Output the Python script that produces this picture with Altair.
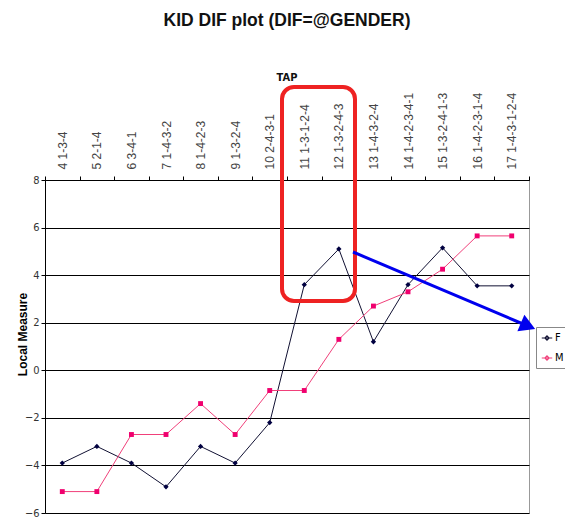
import altair as alt
import pandas as pd

items = ["4 1-3-4", "5 2-1-4", "6 3-4-1", "7 1-4-3-2", "8 1-4-2-3", "9 1-3-2-4",
         "10 2-4-3-1", "11 1-3-1-2-4", "12 1-3-2-4-3", "13 1-4-3-2-4",
         "14 1-4-2-3-4-1", "15 1-3-2-4-1-3", "16 1-4-2-3-1-4", "17 1-4-3-1-2-4"]
f_vals = [-3.9, -3.2, -3.9, -4.9, -3.2, -3.9, -2.2, 3.6, 5.1, 1.2, 3.6, 5.15, 3.55, 3.55]
m_vals = [-5.1, -5.1, -2.7, -2.7, -1.4, -2.7, -0.85, -0.85, 1.3, 2.7, 3.3, 4.25, 5.65, 5.65]
series = ["F", "M"]
line_colors = ["#111133", "#f0407a"]
point_colors = ["#000040", "#f0006e"]
y_ticks = [-6, -4, -2, 0, 2, 4, 6, 8]

df = pd.DataFrame({
    "item": items * 2,
    "value": f_vals + m_vals,
    "series": ["F"] * len(items) + ["M"] * len(items),
})

NARROW = "Liberation Sans Narrow, DejaVu Sans Condensed, Liberation Sans, sans-serif"

x_enc = alt.X("item:N", sort=items,
              scale=alt.Scale(type="band", paddingInner=0, paddingOuter=0),
              axis=alt.Axis(orient="top", title=None, labelAngle=-90, labelFontSize=12,
                            labelColor="#444", labelFont="Liberation Sans", labelPadding=7,
                            tickBand="extent", tickSize=4, tickColor="#000",
                            domainColor="#000", grid=False))
y_enc = alt.Y("value:Q", scale=alt.Scale(domain=[-6, 8], nice=False, zero=False),
              axis=alt.Axis(values=y_ticks, title="Local Measure", titleFontSize=12,
                            titleFont="Liberation Sans", titleFontWeight="bold",
                            titleX=-23, titleY=154, titleAngle=270, titleAlign="center",
                            titleBaseline="middle",
                            labelFont=NARROW, labelFontSize=11,
                            labelColor="#333", tickSize=4, tickColor="#000",
                            domainColor="#000", gridColor="#000", gridOpacity=1,
                            gridWidth=1))

legend_path = "M-1,0L1,0M0,-0.4L0.4,0L0,0.4L-0.4,0Z"

lines = alt.Chart(df).mark_line(strokeWidth=1).encode(
    x=x_enc, y=y_enc,
    color=alt.Color("series:N", scale=alt.Scale(domain=series, range=line_colors),
                    legend=alt.Legend(title=None, orient="none", legendX=491, legendY=147,
                                      strokeColor="#888", padding=5, symbolType=legend_path,
                                      symbolSize=110, symbolStrokeWidth=1.2,
                                      labelFontSize=11, labelFont=NARROW,
                                      rowPadding=9, labelOffset=2)),
)

points_f = alt.Chart(df).transform_filter(alt.datum.series == "F").mark_point(
    filled=True, size=28, opacity=1, shape="diamond", color=point_colors[0]).encode(
    x=alt.X("item:N", sort=items), y="value:Q")
points_m = alt.Chart(df).transform_filter(alt.datum.series == "M").mark_point(
    filled=True, size=24, opacity=1, shape="square", color=point_colors[1]).encode(
    x=alt.X("item:N", sort=items), y="value:Q")

one = pd.DataFrame({"a": [0]})
box = alt.Chart(one).mark_rect(fill="transparent", stroke="#ee2222", strokeWidth=4,
                               cornerRadius=12).encode(
    x=alt.value(237), x2=alt.value(310), y=alt.value(-93), y2=alt.value(121))
tap = alt.Chart(one).mark_text(text="TAP", font=NARROW, fontWeight="bold", fontSize=11,
                               color="#111").encode(x=alt.value(242), y=alt.value(-102))
arrow = alt.Chart(one).mark_rule(color="#0000ee", strokeWidth=3).encode(
    x=alt.value(308), y=alt.value(72), x2=alt.value(478), y2=alt.value(144))
head = alt.Chart(one).mark_point(shape="triangle-right", filled=True, color="#0000ee",
                                 size=320, angle=23, opacity=1).encode(
    x=alt.value(483), y=alt.value(146))

chart = alt.layer(lines, points_f, points_m, box, tap, arrow, head).properties(
    width=484, height=333,
    title=alt.TitleParams("KID DIF plot (DIF=@GENDER)", font="Liberation Sans", fontSize=17.5,
                          fontWeight="bold", color="#111", offset=43, anchor="middle"),
    autosize=alt.AutoSizeParams(type="none"),
    padding={"left": 37, "top": 172, "right": 36, "bottom": 8},
).configure_view(stroke="#999", strokeWidth=1)

chart.save("out.html", embed_options={"renderer": "svg", "actions": False})
